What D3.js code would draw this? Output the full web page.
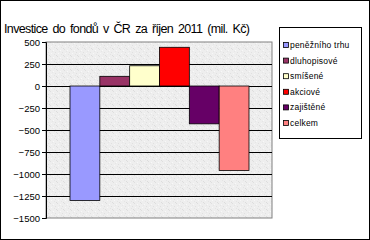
<!DOCTYPE html>
<html><head><meta charset="utf-8">
<script src="https://cdn.jsdelivr.net/npm/d3@7"></script>
<style>body{margin:0;background:#fff}svg{display:block;font-family:"Liberation Sans",Arial,sans-serif}</style>
</head><body><svg id="c" width="370" height="240"></svg>
<script>
const title = "Investice do fondů v ČR za říjen 2011 (mil. Kč)";
const seriesNames = ["peněžního trhu","dluhopisové","smíšené","akciové","zajištěné","celkem"];
const seriesValues = [-1300, 110, 230, 440, -430, -960];
const seriesColors = ["#9999FF","#993366","#FFFFCC","#FF0000","#660066","#FF8080"];
const yTicks = [500,250,0,-250,-500,-750,-1000,-1250,-1500];

const svg = d3.select("#c");
svg.append("rect").attr("x",0.5).attr("y",0.5).attr("width",369).attr("height",239)
  .attr("fill","#fff").attr("stroke","#000");

const L=46,R=272,T=42,B=218;
const y = d3.scaleLinear().domain([-1500,500]).range([B,T]);
const x = d3.scaleBand().domain(seriesNames).range([70,249]).padding(0);

// granite-like texture for plot background
const defs = svg.append("defs");
const pat = defs.append("pattern").attr("id","g").attr("width",7).attr("height",7).attr("patternUnits","userSpaceOnUse");
pat.append("rect").attr("width",7).attr("height",7).attr("fill","#eeeeee");
[[1,0,"#dedede"],[4,1,"#f8f8f8"],[6,3,"#e0e0e0"],[2,4,"#f7f7f7"],[0,6,"#dcdcdc"],[5,5,"#e4e4e4"],[3,2,"#e6e6e6"]]
  .forEach(([px,py,c])=>pat.append("rect").attr("x",px).attr("y",py).attr("width",1).attr("height",1).attr("fill",c));

svg.append("rect").attr("x",L).attr("y",T).attr("width",R-L).attr("height",B-T)
  .attr("fill","url(#g)").attr("stroke","#808080");

// gridlines
svg.append("g").selectAll("line").data(yTicks.filter(v=>v!==500 && v!==-1500)).join("line")
  .attr("x1",L).attr("x2",R).attr("y1",d=>Math.round(y(d))+0.5).attr("y2",d=>Math.round(y(d))+0.5)
  .attr("stroke","#000");

// axis
const ax = svg.append("g").attr("transform",`translate(${L},0)`)
  .call(d3.axisLeft(y).tickValues(yTicks).tickSize(4).tickPadding(2).tickFormat(d3.format("d")));
ax.selectAll("text").attr("font-size","9.5px").attr("fill","#000");
ax.select(".domain").attr("stroke","#000");
ax.selectAll(".tick line").attr("stroke","#000");

// bars
svg.append("g").selectAll("rect").data(seriesValues).join("rect")
  .attr("x",(d,i)=>x(seriesNames[i]))
  .attr("width",x.bandwidth())
  .attr("y",d=>y(Math.max(0,d)))
  .attr("height",d=>Math.abs(y(d)-y(0)))
  .attr("fill",(d,i)=>seriesColors[i])
  .attr("stroke","#000").attr("stroke-width",0.8);

// title
svg.append("text").attr("x",4).attr("y",33).attr("font-size","12.5px")
  .attr("word-spacing","2px")
  .attr("textLength",246).attr("lengthAdjust","spacing").text(title);

// legend
const lg = svg.append("g");
lg.append("rect").attr("x",279.5).attr("y",27.5).attr("width",82).attr("height",111)
  .attr("fill","#fff").attr("stroke","#000");
const ly = d3.scalePoint().domain(seriesNames).range([45,123]);
const items = lg.selectAll("g").data(seriesNames).join("g")
  .attr("transform",d=>`translate(283,${ly(d)})`);
items.append("rect").attr("x",0.5).attr("y",-2.5).attr("width",5).attr("height",5)
  .attr("fill",(d,i)=>seriesColors[i]).attr("stroke","#000").attr("stroke-width",0.8);
items.append("text").attr("x",7).attr("y",3).attr("font-size","8.5px").attr("letter-spacing","0.2px").text(d=>d);
</script></body></html>
